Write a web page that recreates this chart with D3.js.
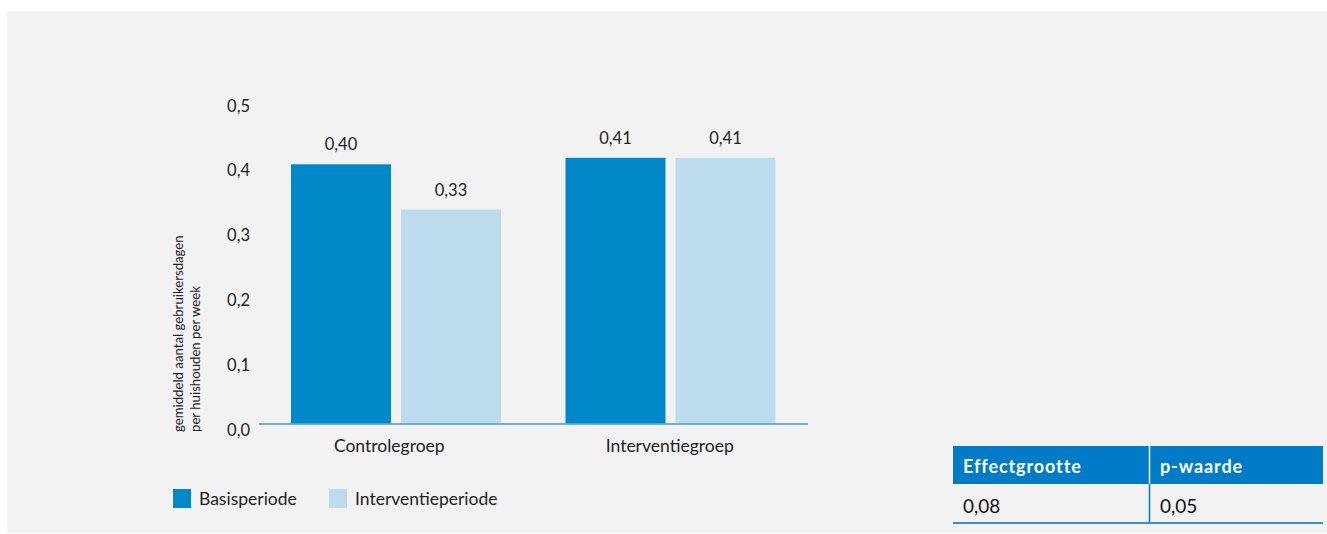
<!DOCTYPE html>
<html><head><meta charset="utf-8">
<script src="https://cdn.jsdelivr.net/npm/d3@7"></script>
<style>
html,body{margin:0;padding:0;background:#fff;}
svg{display:block;font-family:Lato,"Noto Sans",sans-serif;}
</style></head>
<body><svg id="c" width="1327" height="534"></svg>
<script>
const categories = ["Controlegroep", "Interventiegroep"];
const seriesNames = ["Basisperiode", "Interventieperiode"];
const basisperiode = [0.40, 0.41];
const interventieperiode = [0.33, 0.41];
const yTicks = [0, 0.1, 0.2, 0.3, 0.4, 0.5];
const tableHeaders = ["Effectgrootte", "p-waarde"];
const tableValues = ["0,08", "0,05"];
const yTitle = ["gemiddeld aantal gebruikersdagen", "per huishouden per week"];

const colors = ["#0088c8", "#bcdbec"];
const series = [basisperiode, interventieperiode];
const fmt = v => d3.format(".2f")(v).replace(".", ",");
const fmtT = v => d3.format(".1f")(v).replace(".", ",");

const svg = d3.select("#c");
svg.append("rect").attr("x", 7).attr("y", 11).attr("width", 1320).attr("height", 522).attr("fill", "#f2f2f2");

const y = d3.scaleLinear().domain([0, 0.5]).range([423.5, 99.5]);
const x0 = d3.scaleBand().domain(categories).range([259, 808]).padding(0);
const x1 = d3.scaleBand().domain(seriesNames).range([32, 242]).paddingInner(0.0909);

// y tick labels
svg.append("g").selectAll("text").data(yTicks).join("text")
  .attr("x", 250).attr("y", d => y(d) + 12)
  .attr("text-anchor", "end").attr("font-size", 16.5).attr("fill", "#222")
  .text(fmtT);

// bars
const g = svg.append("g");
categories.forEach((cat, ci) => {
  seriesNames.forEach((s, si) => {
    const v = series[si][ci];
    const bx = x0(cat) + x1(s);
    g.append("rect").attr("x", bx).attr("y", y(v))
      .attr("width", x1.bandwidth()).attr("height", y(0) - y(v))
      .attr("fill", colors[si]);
    g.append("text").attr("x", bx + x1.bandwidth() / 2).attr("y", y(v) - 14)
      .attr("text-anchor", "middle").attr("font-size", 16.5).attr("fill", "#222")
      .text(fmt(v));
  });
});

// baseline
svg.append("line").attr("x1", 259).attr("x2", 808).attr("y1", y(0) + 0.5).attr("y2", y(0) + 0.5)
  .attr("stroke", "#3a9ad9").attr("stroke-width", 1.5);

// category labels
svg.append("g").selectAll("text").data(categories).join("text")
  .attr("x", d => x0(d) + x0.bandwidth() / 2 - (d === categories[0] ? 7 : 1)).attr("y", 452)
  .attr("text-anchor", "middle").attr("font-size", 17.5).attr("fill", "#222").text(d => d);

// y title
yTitle.forEach((t, i) => {
  svg.append("text").attr("transform", `translate(${183 + i * 17},432) rotate(-90)`)
    .attr("font-size", 13.2).attr("fill", "#222").text(t);
});

// legend
const legX = [173, 329];
seriesNames.forEach((s, i) => {
  svg.append("rect").attr("x", legX[i]).attr("y", 489).attr("width", 18).attr("height", 19).attr("fill", colors[i]);
  svg.append("text").attr("x", legX[i] + 26).attr("y", 505).attr("font-size", 17.5).attr("fill", "#222").text(s);
});

// table
svg.append("rect").attr("x", 953).attr("y", 446).attr("width", 370).attr("height", 38).attr("fill", "#007bc7");
svg.append("line").attr("x1", 1149.5).attr("x2", 1149.5).attr("y1", 446).attr("y2", 484).attr("stroke", "#fff").attr("stroke-width", 1.5);
svg.append("line").attr("x1", 1149.5).attr("x2", 1149.5).attr("y1", 484).attr("y2", 522).attr("stroke", "#007bc7").attr("stroke-width", 1.5);
svg.append("line").attr("x1", 953).attr("x2", 1323).attr("y1", 523).attr("y2", 523).attr("stroke", "#3a8fd0").attr("stroke-width", 2);
const colX = [963, 1160];
tableHeaders.forEach((h, i) => {
  svg.append("text").attr("x", colX[i]).attr("y", 472.5).attr("font-size", 18).attr("font-weight", "bold")
    .attr("letter-spacing", 0.9).attr("fill", "#fff").text(h);
  svg.append("text").attr("x", colX[i]).attr("y", 513).attr("font-size", 19).attr("fill", "#111").text(tableValues[i]);
});
</script></body></html>
